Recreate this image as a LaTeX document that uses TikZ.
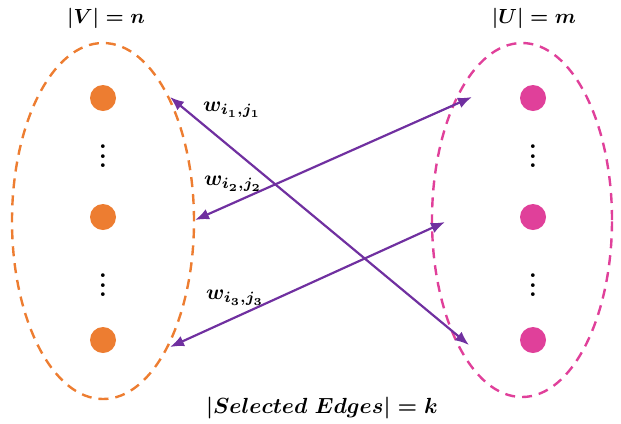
\documentclass[tikz,border=0pt]{standalone}
\usepackage{graphicx}
\usetikzlibrary{shapes.geometric,arrows.meta}
\definecolor{vorange}{HTML}{ED7D31}
\definecolor{upink}{HTML}{E0409A}
\definecolor{epurple}{HTML}{7030A0}
\newcommand{\sclmath}[2]{\scalebox{#1}{\boldmath$#2$}}
\newcommand{\bvd}{\scalebox{2.4}{\bfseries\vdots}}
\begin{document}
\begin{tikzpicture}[x=1bp,y=-1bp,
  setell/.style={draw,ellipse,dash pattern=on 10bp off 7bp,line width=2.4bp,minimum width=#1,inner sep=0pt},
  vdot/.style={circle,fill=vorange,minimum size=26bp,inner sep=0pt},
  udot/.style={circle,fill=upink,minimum size=26bp,inner sep=0pt},
  lbl/.style={inner sep=0pt},
  vd/.style={inner sep=0pt},
  edge/.style={epurple,line width=2.2bp,{Latex[length=14bp,width=11bp]}-{Latex[length=14bp,width=11bp]}}]
\useasboundingbox (0,0) rectangle (621,423);
\node[setell=182bp,vorange,minimum height=356bp] (V) at (103,221) {};
\node[setell=180bp,upink,minimum height=354bp] (U) at (522,220) {};
\node[vdot] (v1) at (103,98) {};
\node[vdot] (v2) at (103,217) {};
\node[vdot] (v3) at (103,340) {};
\node[udot] (u1) at (533,98) {};
\node[udot] (u2) at (533,217) {};
\node[udot] (u3) at (533,340) {};
\node[vd] (vd1) at (103,149) {\bvd};
\node[vd] (vd2) at (103,278) {\bvd};
\node[vd] (ud1) at (533,149) {\bvd};
\node[vd] (ud2) at (533,278) {\bvd};
\node[lbl] (tV) at (106,18) {\sclmath{2.05}{|V| = n}};
\node[lbl] (tU) at (534,18) {\sclmath{2.05}{|U| = m}};
\node[lbl] (tE) at (322,408) {\sclmath{2.2}{|Selected\ Edges| = k}};
\coordinate (a1) at (170,97);
\coordinate (b1) at (469,345);
\coordinate (a2) at (195,220);
\coordinate (b2) at (472,97);
\coordinate (a3) at (170,347);
\coordinate (b3) at (445,222);
\draw[edge] (a1) -- (b1);
\draw[edge] (a2) -- (b2);
\draw[edge] (a3) -- (b3);
\node[lbl] (w1) at (232,110) {\sclmath{2.15}{w_{i_1,j_1}}};
\node[lbl] (w2) at (233,184) {\sclmath{2.15}{w_{i_2,j_2}}};
\node[lbl] (w3) at (235,298) {\sclmath{2.15}{w_{i_3,j_3}}};
\end{tikzpicture}
\end{document}
